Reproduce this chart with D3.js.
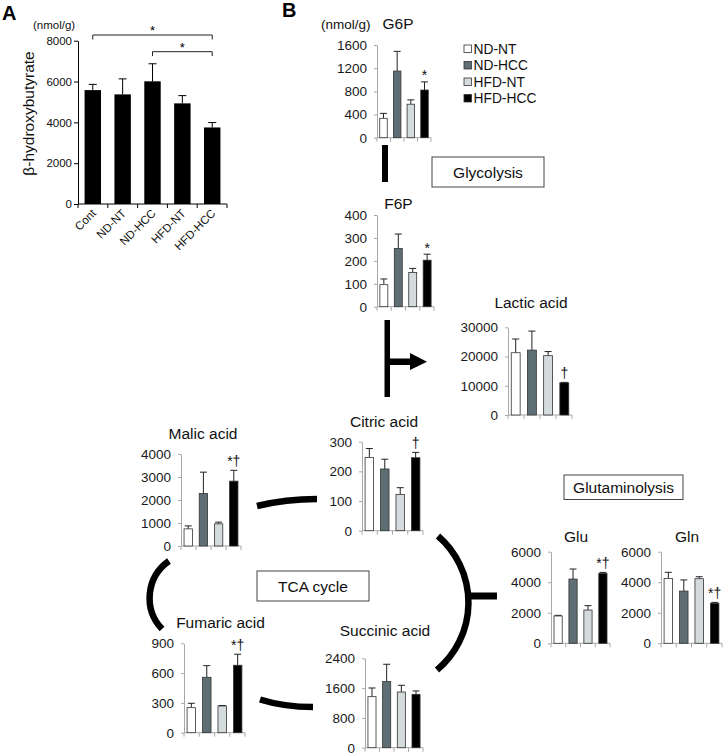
<!DOCTYPE html>
<html><head><meta charset="utf-8">
<script src="https://cdn.jsdelivr.net/npm/d3@7"></script>
<style>
body{margin:0;background:#fff}
svg{display:block}
text{font-family:"Liberation Sans",Arial,Helvetica,sans-serif}
</style>
</head><body>
<svg id="chart" width="724" height="755"></svg>
<script>
// ---------- DATA ----------
const groupsA = ["Cont", "ND-NT", "ND-HCC", "HFD-NT", "HFD-HCC"];
const bhbMean = [5580, 5370, 6010, 4930, 3750];
const bhbSE   = [280, 760, 860, 380, 240];
const bhbTicks = [0, 2000, 4000, 6000, 8000];

const groupsB = ["ND-NT", "ND-HCC", "HFD-NT", "HFD-HCC"];

const g6pMean = [335, 1150, 578, 823];
const g6pSE   = [85, 340, 75, 140];
const g6pTicks = [0, 400, 800, 1200, 1600];

const f6pMean = [96, 254, 149, 203];
const f6pSE   = [25, 63, 18, 26];
const f6pTicks = [0, 100, 200, 300, 400];

const lacticMean = [21300, 22200, 20300, 11000];
const lacticSE   = [4700, 6500, 1400, 150];
const lacticTicks = [0, 10000, 20000, 30000];

const citricMean = [247, 208, 122, 246];
const citricSE   = [30, 33, 23, 18];
const citricTicks = [0, 100, 200, 300];

const malicMean = [745, 2280, 963, 2820];
const malicSE   = [130, 930, 75, 470];
const malicTicks = [0, 1000, 2000, 3000, 4000];

const fumaricMean = [252, 558, 269, 679];
const fumaricSE   = [44, 117, 5, 111];
const fumaricTicks = [0, 300, 600, 900];

const succinicMean = [1370, 1775, 1495, 1433];
const succinicSE   = [233, 465, 180, 90];
const succinicTicks = [0, 800, 1600, 2400];

const gluMean = [1790, 4210, 2180, 4580];
const gluSE   = [40, 655, 285, 65];
const gluTicks = [0, 2000, 4000, 6000];

const glnMean = [4250, 3420, 4230, 2620];
const glnSE   = [400, 730, 130, 60];
const glnTicks = [0, 2000, 4000, 6000];

const marks = {G6P: "*", F6P: "*", Lactic: "\u2020", Citric: "\u2020", Malic: "*\u2020",
               Fumaric: "*\u2020", Succinic: "", Glu: "*\u2020", Gln: "*\u2020"};

// ---------- LAYOUT (positions only) ----------
const svg = d3.select("#chart");
const FONT = '"Liberation Sans",Arial,Helvetica,sans-serif';
const colorsB = ["#ffffff", "#5f6e74", "#d4dbdc", "#000000"];
const fmt = d3.format("d");

// ---------- PANEL A ----------
(function () {
  const x0 = 78, x1 = 227, y0 = 204, y1 = 40.7;
  const x = d3.scaleBand().domain(groupsA).range([x0, x1]).paddingInner(0.45).paddingOuter(0.22);
  const y = d3.scaleLinear().domain([0, 8000]).range([y0, y1]);
  const g = svg.append("g");

  g.append("g").attr("transform", `translate(${x0},0)`)
    .call(d3.axisLeft(y).tickValues(bhbTicks).tickFormat(fmt).tickSize(4).tickPadding(2).tickSizeOuter(0))
    .call(a => { a.selectAll("path,line").attr("stroke", "#000"); a.selectAll("text").attr("font-size", 11.5).attr("fill", "#111").attr("font-family", FONT); });

  g.append("line").attr("x1", x0).attr("x2", x1).attr("y1", y0).attr("y2", y0).attr("stroke", "#000");
  const step = (x1 - x0) / groupsA.length;
  d3.range(groupsA.length + 1).forEach(i => {
    g.append("line").attr("x1", x0 + i * step).attr("x2", x0 + i * step).attr("y1", y0).attr("y2", y0 + 4).attr("stroke", "#000");
  });

  groupsA.forEach((k, i) => {
    const cx = x(k) + x.bandwidth() / 2;
    g.append("line").attr("x1", cx).attr("x2", cx).attr("y1", y(bhbMean[i])).attr("y2", y(bhbMean[i] + bhbSE[i])).attr("stroke", "#000");
    g.append("line").attr("x1", cx - 4).attr("x2", cx + 4).attr("y1", y(bhbMean[i] + bhbSE[i])).attr("y2", y(bhbMean[i] + bhbSE[i])).attr("stroke", "#000");
    g.append("rect").attr("x", x(k)).attr("width", x.bandwidth()).attr("y", y(bhbMean[i])).attr("height", y0 - y(bhbMean[i])).attr("fill", "#000");
    g.append("text").attr("transform", `translate(${cx + 4},${y0 + 10}) rotate(-45)`).attr("text-anchor", "end")
      .attr("font-size", 11.5).attr("fill", "#111").text(k);
  });

  // significance brackets
  const c0 = x(groupsA[0]) + x.bandwidth() / 2, c2 = x(groupsA[2]) + x.bandwidth() / 2, c4 = x(groupsA[4]) + x.bandwidth() / 2;
  g.append("path").attr("d", `M${c0},39.5V35H${c4}V39.5`).attr("fill", "none").attr("stroke", "#222");
  g.append("text").attr("x", (c0 + c4) / 2).attr("y", 35).attr("text-anchor", "middle").attr("font-size", 13).text("*");
  g.append("path").attr("d", `M${c2},56V51.7H${c4}V56`).attr("fill", "none").attr("stroke", "#222");
  g.append("text").attr("x", (c2 + c4) / 2).attr("y", 51.5).attr("text-anchor", "middle").attr("font-size", 13).text("*");

  g.append("text").attr("transform", "translate(34,113.5) rotate(-90)").attr("text-anchor", "middle")
    .attr("font-size", 15.5).attr("fill", "#111").text("\u03b2-hydroxybutyrate");
  g.append("text").attr("x", 33).attr("y", 29).attr("font-size", 11.5).attr("fill", "#111").text("(nmol/g)");
  g.append("text").attr("x", 2).attr("y", 20).attr("font-size", 20).attr("font-weight", "bold").text("A");
})();

// ---------- PANEL B ----------
svg.append("text").attr("x", 282).attr("y", 17).attr("font-size", 20).attr("font-weight", "bold").text("B");
svg.append("text").attr("x", 321).attr("y", 29).attr("font-size", 13.5).attr("fill", "#111").text("(nmol/g)");

function drawChart(title, key, mean, se, ticks, L) {
  const g = svg.append("g");
  const y = d3.scaleLinear().domain([0, ticks[ticks.length - 1]]).range([L.y0, L.y1]);
  const x = d3.scaleBand().domain(groupsB).range([L.x, L.x + L.w]).paddingInner(0.45).paddingOuter(0.2);

  g.append("g").attr("transform", `translate(${L.x},0)`)
    .call(d3.axisLeft(y).tickValues(ticks).tickFormat(fmt).tickSize(3).tickPadding(7).tickSizeOuter(0))
    .call(a => { a.selectAll("path,line").attr("stroke", "#a8a8a8"); a.selectAll("text").attr("font-size", 13.5).attr("fill", "#1a1a1a").attr("font-family", FONT); });

  g.append("line").attr("x1", L.x).attr("x2", L.x + L.w).attr("y1", L.y0).attr("y2", L.y0).attr("stroke", "#a8a8a8");
  const step = L.w / groupsB.length;
  d3.range(groupsB.length + 1).forEach(i => {
    g.append("line").attr("x1", L.x + i * step).attr("x2", L.x + i * step).attr("y1", L.y0).attr("y2", L.y0 + 4).attr("stroke", "#a8a8a8");
  });

  groupsB.forEach((k, i) => {
    const cx = x(k) + x.bandwidth() / 2;
    const top = y(mean[i] + se[i]);
    g.append("line").attr("x1", cx).attr("x2", cx).attr("y1", y(mean[i])).attr("y2", top).attr("stroke", "#222");
    g.append("line").attr("x1", cx - 3.5).attr("x2", cx + 3.5).attr("y1", top).attr("y2", top).attr("stroke", "#222");
    g.append("rect").attr("x", x(k)).attr("width", x.bandwidth()).attr("y", y(mean[i])).attr("height", L.y0 - y(mean[i]))
      .attr("fill", colorsB[i]).attr("stroke", "#333").attr("stroke-width", 0.8);
  });

  const m = marks[key];
  if (m) {
    const i = 3, cx = x(groupsB[i]) + x.bandwidth() / 2;
    const top = y(mean[i] + se[i]);
    g.append("text").attr("x", cx).attr("y", top - (m === "*" ? 1.5 : 4)).attr("text-anchor", "middle")
      .attr("font-size", 14).attr("fill", "#111").text(m);
  }
  g.append("text").attr("x", L.tx).attr("y", L.ty).attr("text-anchor", "middle").attr("font-size", 15.5).attr("fill", "#111").text(title);
}

drawChart("G6P", "G6P", g6pMean, g6pSE, g6pTicks, {x: 377, w: 54, y0: 137.7, y1: 45, tx: 398, ty: 29});
drawChart("F6P", "F6P", f6pMean, f6pSE, f6pTicks, {x: 377, w: 57, y0: 306.7, y1: 215, tx: 398.5, ty: 209});
drawChart("Lactic acid", "Lactic", lacticMean, lacticSE, lacticTicks, {x: 508, w: 64, y0: 415, y1: 327.3, tx: 531, ty: 308});
drawChart("Citric acid", "Citric", citricMean, citricSE, citricTicks, {x: 362, w: 61, y0: 530.7, y1: 441.7, tx: 384, ty: 426.5});
drawChart("Malic acid", "Malic", malicMean, malicSE, malicTicks, {x: 181, w: 60, y0: 546, y1: 454, tx: 203, ty: 439});
drawChart("Fumaric acid", "Fumaric", fumaricMean, fumaricSE, fumaricTicks, {x: 184, w: 61, y0: 732.7, y1: 643.3, tx: 220.5, ty: 628});
drawChart("Succinic acid", "Succinic", succinicMean, succinicSE, succinicTicks, {x: 365, w: 58, y0: 747.7, y1: 658.3, tx: 385, ty: 635.5});
drawChart("Glu", "Glu", gluMean, gluSE, gluTicks, {x: 551, w: 59, y0: 643.3, y1: 551.7, tx: 576, ty: 541.7});
drawChart("Gln", "Gln", glnMean, glnSE, glnTicks, {x: 661, w: 61, y0: 643.3, y1: 551.7, tx: 687, ty: 541.7});

// legend
groupsB.forEach((k, i) => {
  const yy = 53.5 + i * 16.5;
  svg.append("rect").attr("x", 464).attr("y", yy - 8.5).attr("width", 7.5).attr("height", 7.5)
    .attr("fill", colorsB[i]).attr("stroke", "#333").attr("stroke-width", 0.8);
  svg.append("text").attr("x", 473.5).attr("y", yy).attr("font-size", 13.8).attr("fill", "#111").text(k);
});

// pathway boxes
function box(x, y, w, h, label) {
  svg.append("rect").attr("x", x).attr("y", y).attr("width", w).attr("height", h).attr("fill", "#fff").attr("stroke", "#444").attr("stroke-width", 1);
  svg.append("text").attr("x", x + w / 2).attr("y", y + h / 2 + 5.5).attr("text-anchor", "middle").attr("font-size", 15.5).attr("fill", "#111").text(label);
}
box(432, 157, 112, 30, "Glycolysis");
box(257, 571, 112, 30, "TCA cycle");
box(564, 475, 119, 24.5, "Glutaminolysis");

// connectors
svg.append("rect").attr("x", 382).attr("y", 145).attr("width", 6).attr("height", 37).attr("fill", "#000");
svg.append("rect").attr("x", 384.5).attr("y", 320).attr("width", 5.5).attr("height", 77).attr("fill", "#000");
svg.append("rect").attr("x", 389).attr("y", 358.5).attr("width", 23).attr("height", 6.5).attr("fill", "#000");
svg.append("path").attr("d", "M410,353L427,361.7L410,370Z").attr("fill", "#000");

const arc = d => svg.append("path").attr("d", d).attr("fill", "none").attr("stroke", "#000").attr("stroke-width", 6.5).attr("stroke-linecap", "butt");
arc("M257,506 Q286,499 317,499");
arc("M260,699.5 Q284,707 313,707");
arc("M438,536 A88,88 0 0 1 437,670");
arc("M169,561 A45,45 0 0 0 162,629");
svg.append("rect").attr("x", 466).attr("y", 592.5).attr("width", 31).attr("height", 7).attr("fill", "#000");
</script>
</body></html>
